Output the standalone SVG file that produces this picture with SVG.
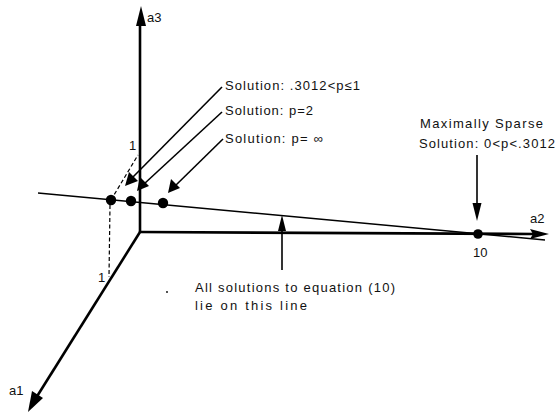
<svg xmlns="http://www.w3.org/2000/svg" width="560" height="413" viewBox="0 0 560 413">
<style>
text{font-family:"Liberation Sans",Arial,sans-serif;font-size:13px;fill:#111}
.ax{stroke:#000;stroke-width:2.6;fill:none}
.ln{stroke:#000;stroke-width:1.5;fill:none}
.ld{stroke:#000;stroke-width:1.6;fill:none}
.ds{stroke:#000;stroke-width:1.2;fill:none;stroke-dasharray:4 2.5}
.hd{fill:#000}
</style>
<rect width="560" height="413" fill="#fff"/>
<g id="axes">
<line class="ax" x1="140" y1="232" x2="140" y2="22"/>
<polygon class="hd" points="141,6 136,26 146,26"/>
<line class="ax" x1="140" y1="232" x2="534" y2="234"/>
<polygon class="hd" points="549,234 530,229 533,234 530,239"/>
<line class="ax" x1="140" y1="232" x2="36" y2="398"/>
<polygon class="hd" points="28,412 32,391 43,398"/>
<text x="147" y="22">a3</text>
<text x="530" y="223">a2</text>
<text x="9" y="395">a1</text>
</g>
<g id="solution-line">
<line class="ln" x1="38" y1="193" x2="545" y2="240"/>
</g>
<g id="dashed">
<line class="ds" x1="111" y1="200" x2="138" y2="155"/>
<line class="ds" x1="110" y1="205" x2="109" y2="277"/>
<text x="129" y="150" font-size="11">1</text>
<text x="98" y="282" font-size="11">1</text>
</g>
<g id="dots">
<circle cx="111" cy="200" r="5.2"/>
<circle cx="131" cy="201" r="5.2"/>
<circle cx="163" cy="203" r="5.2"/>
<circle cx="478" cy="234" r="4.8"/>
<circle cx="167" cy="292" r="0.9"/>
</g>
<g id="connectors">
<line class="ld" x1="222" y1="87" x2="132" y2="178"/>
<polygon class="hd" points="125,186 129,172 138,181"/>
<line class="ld" x1="222" y1="112" x2="144" y2="184"/>
<polygon class="hd" points="137,191 140,177 149,186"/>
<line class="ld" x1="223" y1="139" x2="175" y2="186"/>
<polygon class="hd" points="168,193 171,179 180,188"/>
<line class="ld" x1="477" y1="155" x2="477" y2="206"/>
<polygon class="hd" points="477,221 472.5,203 481.5,203"/>
<line class="ld" x1="282" y1="270" x2="282" y2="228"/>
<polygon class="hd" points="282,215 278,231 286,231"/>
</g>
<g id="labels">
<text x="225" y="90" textLength="135" lengthAdjust="spacing">Solution: .3012&lt;p≤1</text>
<text x="225" y="115" textLength="88" lengthAdjust="spacing">Solution: p=2</text>
<text x="225" y="143" textLength="98" lengthAdjust="spacing">Solution: p= ∞</text>
<text x="420" y="128" textLength="123" lengthAdjust="spacing">Maximally Sparse</text>
<text x="419" y="148" textLength="136" lengthAdjust="spacing">Solution: 0&lt;p&lt;.3012</text>
<text x="195" y="292" textLength="200" lengthAdjust="spacing">All solutions to equation (10)</text>
<text x="195" y="310" textLength="112" lengthAdjust="spacing">lie on this line</text>
<text x="473" y="257" font-size="12">10</text>
</g>
</svg>
